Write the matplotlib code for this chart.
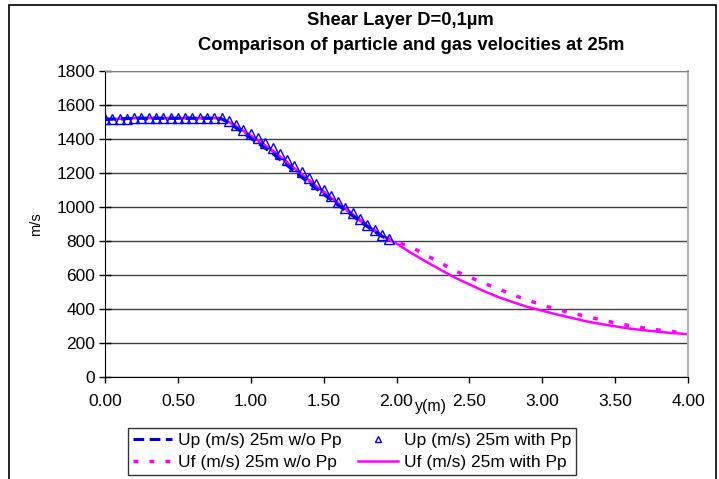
import matplotlib
matplotlib.use('Agg')
import matplotlib.pyplot as plt
from matplotlib.patches import Rectangle

plt.rcParams['font.family'] = ['Liberation Sans', 'DejaVu Sans']

# y positions (m)
y_up = [0.00, 0.05, 0.10, 0.15, 0.20, 0.25, 0.30, 0.35, 0.40, 0.45,
        0.50, 0.55, 0.60, 0.65, 0.70, 0.75, 0.80, 0.85, 0.90, 0.95,
        1.00, 1.05, 1.10, 1.15, 1.20, 1.25, 1.30, 1.35, 1.40, 1.45,
        1.50, 1.55, 1.60, 1.65, 1.70, 1.75, 1.80, 1.85, 1.90, 1.95]
y_uf = y_up + [2.00, 2.10, 2.20, 2.30, 2.40, 2.50, 2.60, 2.70, 2.80, 2.90,
               3.00, 3.10, 3.20, 3.30, 3.40, 3.50, 3.60, 3.70, 3.80, 3.90, 4.00]

# Up (m/s) 25m w/o Pp
up_wo = [1515, 1517, 1518, 1520, 1521, 1522, 1522, 1522, 1522, 1522,
         1522, 1522, 1522, 1522, 1522, 1522, 1518, 1495, 1465, 1435,
         1405, 1375, 1345, 1315, 1280, 1245, 1210, 1175, 1140, 1108,
         1075, 1043, 1010, 980, 948, 915, 885, 855, 828, 805]
# Up (m/s) 25m with Pp
up_with = [1515, 1518, 1518, 1520, 1522, 1525, 1525, 1525, 1525, 1525,
           1525, 1525, 1525, 1525, 1525, 1525, 1522, 1505, 1480, 1455,
           1430, 1405, 1375, 1345, 1310, 1275, 1240, 1205, 1170, 1135,
           1100, 1065, 1030, 995, 962, 928, 895, 865, 835, 810]
# Uf (m/s) 25m w/o Pp
uf_wo = [1515, 1518, 1519, 1520, 1522, 1523, 1523, 1523, 1523, 1523,
         1523, 1523, 1523, 1523, 1523, 1523, 1520, 1500, 1472, 1445,
         1418, 1390, 1360, 1330, 1295, 1260, 1225, 1190, 1155, 1120,
         1088, 1055, 1020, 988, 955, 922, 890, 860, 832, 810,
         795, 765, 718, 672, 625, 588, 552, 518, 483, 452,
         423, 398, 377, 357, 337, 318, 302, 288, 276, 266, 257]
# Uf (m/s) 25m with Pp
uf_with = [1515, 1518, 1519, 1520, 1522, 1523, 1523, 1523, 1523, 1523,
           1523, 1523, 1523, 1523, 1523, 1523, 1520, 1500, 1475, 1448,
           1420, 1392, 1362, 1332, 1298, 1262, 1228, 1192, 1158, 1122,
           1090, 1056, 1022, 990, 957, 924, 892, 862, 832, 808,
           785, 730, 680, 632, 585, 545, 505, 470, 440, 412,
           390, 368, 348, 328, 312, 298, 285, 275, 266, 258, 252]

fig = plt.figure(figsize=(7.19, 4.79), dpi=100)
ax = fig.add_axes([105 / 719, 102 / 479, 583 / 719, 306 / 479])

ax.plot(y_up, up_wo, color='#0000DD', lw=2.2, dashes=(3.5, 1.8),
        label='Up (m/s) 25m w/o Pp', zorder=3)
ax.plot(y_uf, uf_wo, color='#FF00FF', lw=2.5, dashes=(1.4, 3.2),
        label='Uf (m/s) 25m w/o Pp', zorder=2)
ax.plot(y_up, up_with, ls='none', marker='^', ms=7, mfc='none',
        mec='#0000FF', mew=1.0, label='Up (m/s) 25m with Pp', zorder=4)
ax.plot(y_uf, uf_with, color='#FF00FF', lw=1.8,
        label='Uf (m/s) 25m with Pp', zorder=2)

ax.set_xlim(0, 4)
ax.set_ylim(0, 1800)
ax.set_xticks([0, 0.5, 1, 1.5, 2, 2.5, 3, 3.5, 4])
ax.set_xticklabels(['0.00', '0.50', '1.00', '1.50', '2.00', '2.50',
                    '3.00', '3.50', '4.00'])
ax.set_yticks(range(0, 1801, 200))
ax.tick_params(axis='y', direction='inout', length=8, width=1, labelsize=12.5, pad=3)
ax.tick_params(axis='x', direction='out', length=4, width=1, labelsize=12.5, pad=8)
ax.grid(axis='y', color='#404040', lw=1)
ax.set_axisbelow(True)
for s in ['left', 'bottom']:
    ax.spines[s].set_color('black')
ax.spines['top'].set_color('#808080')
ax.spines['right'].set_color('#b0b0b0')
ax.spines['right'].set_linewidth(1.5)

ax.set_ylabel('m/s', fontsize=10.5, labelpad=10)
ax.text(0.56, -0.098, 'y(m)', transform=ax.transAxes, fontsize=11.5,
        ha='center', va='center')

fig.text(0.557, 0.957, 'Shear Layer D=0,1µm', ha='center', va='center',
         fontsize=13.2, fontweight='bold')
fig.text(0.572, 0.905, 'Comparison of particle and gas velocities at 25m',
         ha='center', va='center', fontsize=13.2, fontweight='bold')

handles, labels = ax.get_legend_handles_labels()
leg = fig.legend(handles, labels,
                 ncol=2, loc='upper left', bbox_to_anchor=(128 / 719, 1 - 428 / 479),
                 fontsize=12.5, frameon=True, fancybox=False, shadow=False,
                 borderpad=0.3, labelspacing=0.35, handlelength=2.25,
                 handletextpad=0.35, columnspacing=0.95, markerscale=0.7,
                 borderaxespad=0)
leg.get_frame().set_edgecolor('black')
leg.get_frame().set_linewidth(1)

fig.patches.append(Rectangle((9 / 719, -0.1), 707 / 719, 1.1 - 5 / 479,
                             transform=fig.transFigure, fill=False,
                             edgecolor='black', lw=1.2))

fig.savefig('out.png', dpi=100)
